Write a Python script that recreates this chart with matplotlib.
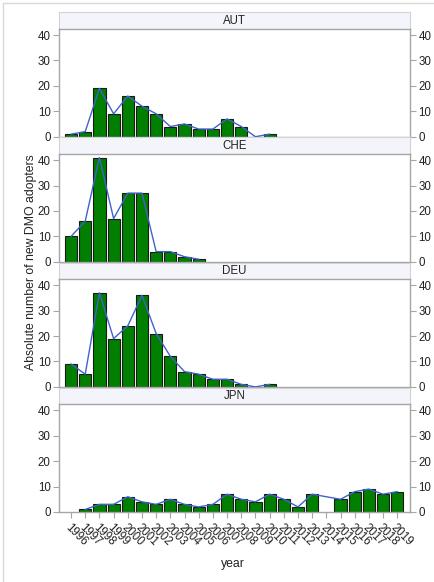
import numpy as np
import matplotlib
matplotlib.use("Agg")
import matplotlib.pyplot as plt
from matplotlib.lines import Line2D

plt.rcParams['font.family'] = ['Liberation Sans', 'DejaVu Sans']

years = list(range(1996, 2020))
countries = ["AUT", "CHE", "DEU", "JPN"]

# New DMO adopters per year (None = no observation)
aut = [1, 2, 19, 9, 16, 12, 9, 4, 5, 3, 3, 7, 4, 0, 1,
       None, None, None, None, None, None, None, None, None]
che = [10, 16, 41, 17, 27, 27, 4, 4, 2, 1,
       None, None, None, None, None, None, None, None, None, None, None, None, None, None]
deu = [9, 5, 37, 19, 24, 36, 21, 12, 6, 5, 3, 3, 1, 0, 1,
       None, None, None, None, None, None, None, None, None]
jpn = [None, 1, 3, 3, 6, 4, 3, 5, 3, 2, 3, 7, 5, 4, 7, 5, 2, 7,
       None, 5, 8, 9, 7, 8]
series = [aut, che, deu, jpn]

W, H = 435, 582
fig = plt.figure(figsize=(W / 100, H / 100), dpi=100)

frame_col = "#A6A6A6"
bar_col = "#007F00"
line_col = "#3F63C8"
fs = 8.3

# outer light frame
fig.add_artist(Line2D([3 / W, 3 / W], [0, 1 - 3 / H], transform=fig.transFigure,
                      color="#D9D9D9", lw=1))
fig.add_artist(Line2D([3 / W, 1], [1 - 3 / H, 1 - 3 / H], transform=fig.transFigure,
                      color="#D9D9D9", lw=1))

x_left, x_right = 59, 410
step = 125.1
hdr_top0, hdr_bot0, plot_bot0 = 12.3, 29.0, 136.7
x = np.arange(len(years))

for i, (name, vals) in enumerate(zip(countries, series)):
    ht = hdr_top0 + step * i
    hb = hdr_bot0 + step * i
    pb = plot_bot0 + step * i

    # header strip
    hax = fig.add_axes([x_left / W, 1 - hb / H, (x_right - x_left) / W, (hb - ht) / H])
    hax.set_facecolor("#F3F5FA")
    hax.set_xticks([])
    hax.set_yticks([])
    for s in hax.spines.values():
        s.set_color("#D0D3D8")
        s.set_linewidth(0.8)
    hax.text(0.5, 0.5, name, ha="center", va="center", fontsize=fs, color="#222222",
             transform=hax.transAxes)

    ax = fig.add_axes([x_left / W, 1 - pb / H, (x_right - x_left) / W, (pb - hb) / H])
    v = np.array([np.nan if val is None else val for val in vals], dtype=float)
    ok = ~np.isnan(v)
    ax.bar(x[ok], v[ok], width=0.86, color=bar_col, edgecolor="#1A1A1A",
           linewidth=0.8, zorder=2)
    ax.plot(x[ok], v[ok], color=line_col, lw=1.0, zorder=3)

    ax.set_xlim(-0.85, 23.9)
    ax.set_ylim(0, 42.36)
    ax.set_yticks([0, 10, 20, 30, 40])
    ax.tick_params(axis="y", which="both", left=True, right=True, labelleft=True,
                   labelright=True, direction="out", length=4, width=0.8,
                   color=frame_col, labelsize=fs, labelcolor="#222222", pad=2)
    for s in ax.spines.values():
        s.set_color(frame_col)
        s.set_linewidth(1.0)

    if i == len(countries) - 1:
        ax.set_xticks(x)
        ax.set_xticklabels([str(y) for y in years], rotation=-45, ha="left",
                           va="top", rotation_mode="anchor", fontsize=fs,
                           color="#222222")
        ax.tick_params(axis="x", direction="out", length=4, width=0.8,
                       color=frame_col, pad=3)
    else:
        ax.set_xticks([])

fig.text(31 / W, 1 - 262 / H, "Absolute number of new DMO adopters", rotation=90,
         ha="center", va="center", fontsize=fs + 0.5, color="#222222")
fig.text(233 / W, 1 - 564 / H, "year", ha="center", va="center", fontsize=fs + 0.5,
         color="#222222")

fig.savefig("out.png", dpi=100, facecolor="white")
